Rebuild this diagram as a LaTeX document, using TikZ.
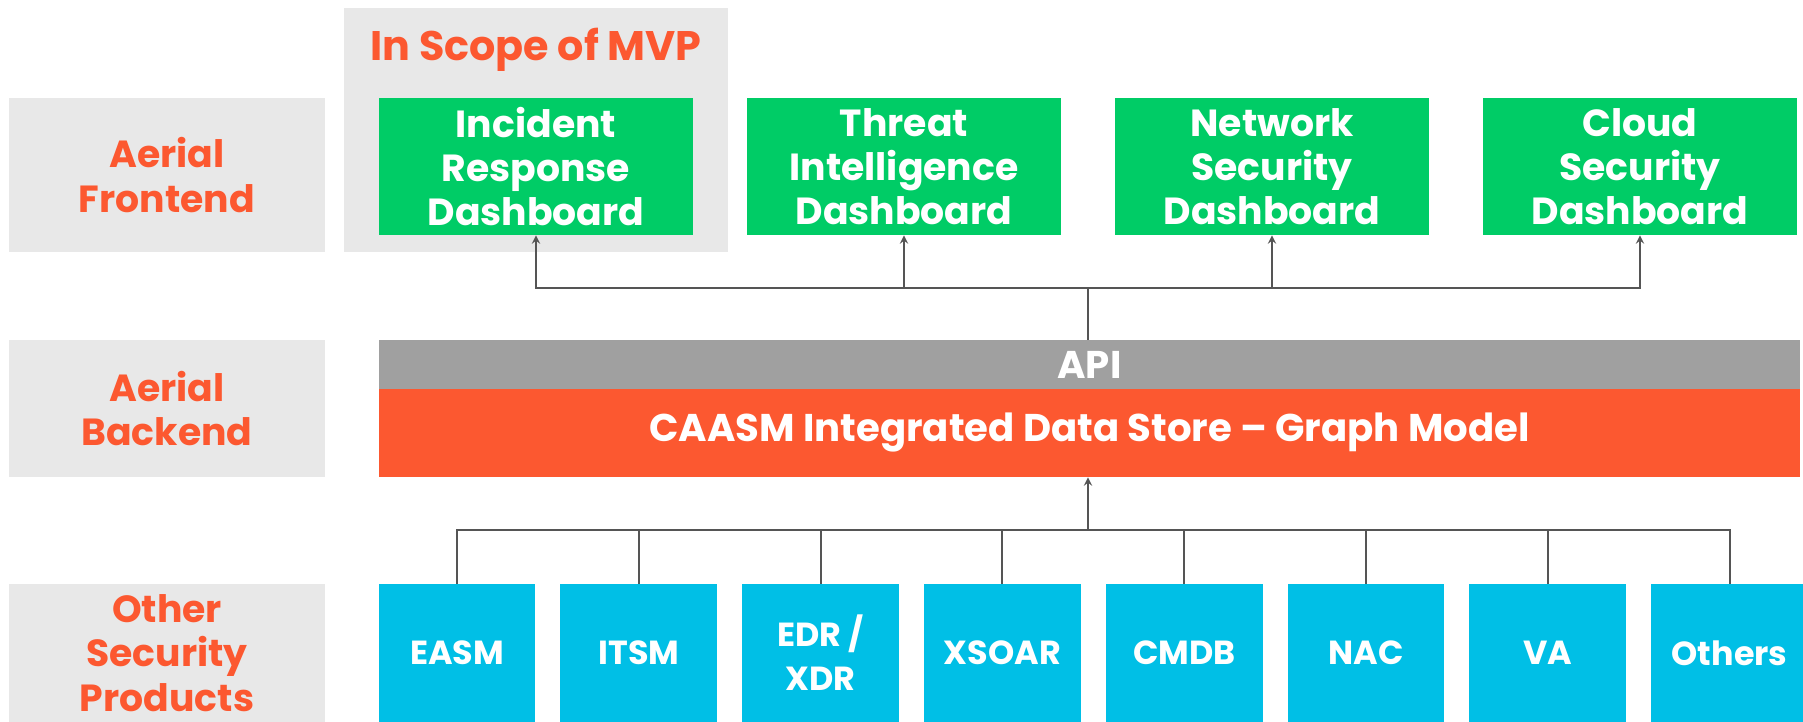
\documentclass[tikz,border=0pt]{standalone}
\usepackage{fontspec}
\setmainfont{Poppins}
\usepackage{xcolor}
\usepackage{tikz}
\usetikzlibrary{calc,positioning,arrows}

\definecolor{lblgrey}{HTML}{E8E8E8}
\definecolor{lblorange}{HTML}{FC5830}
\definecolor{dashgreen}{HTML}{00CC66}
\definecolor{prodblue}{HTML}{00BFE6}
\definecolor{apigrey}{HTML}{A0A0A0}
\definecolor{linegrey}{HTML}{555555}

\begin{document}
\begin{tikzpicture}[x=0.02cm,y=-0.02cm]

\useasboundingbox (0,0) rectangle (1803,722);

\tikzstyle{txt} = [font=\fontsize{21.5}{25.2}\selectfont\bfseries, align=center, inner sep=0pt]
\tikzstyle{layerbox} = [txt, fill=lblgrey, text=lblorange, minimum width=6.32cm]
\tikzstyle{dashbox} = [txt, fill=dashgreen, text=white, minimum width=6.28cm, minimum height=2.74cm]
\tikzstyle{prodbox} = [txt, font=\fontsize{19}{25.2}\selectfont\bfseries, fill=prodblue, text=white, minimum width=3.14cm, minimum height=2.76cm]
\tikzstyle{bar} = [txt, font=\fontsize{22}{25.2}\selectfont\bfseries, text=white, minimum width=28.42cm]
\tikzstyle{link} = [draw=linegrey, line width=1.1pt]

% layer labels on the left
\node (front) [layerbox, minimum height=3.08cm] at (167,175) {Aerial\\Frontend};
\node (back) [layerbox, minimum height=2.74cm] at (167,408.5) {Aerial\\Backend};
\node (other) [layerbox, minimum height=2.76cm] at (167,653) {Other\\Security\\Products};

% mvp scope
\node (mvp) [fill=lblgrey, minimum width=7.68cm, minimum height=4.88cm] at (536,130) {};
\node (mvptxt) [txt, font=\fontsize{23.5}{25.2}\selectfont\bfseries, text=lblorange] at (536,50) {In Scope of MVP};

% dashboards
\node (ir) [dashbox] at (536,166.5) {Incident\\Response\\Dashboard};
\node (ti) [dashbox] at (904,166.5) {Threat\\Intelligence\\Dashboard};
\node (ns) [dashbox] at (1272,166.5) {Network\\Security\\Dashboard};
\node (cs) [dashbox] at (1640,166.5) {Cloud\\Security\\Dashboard};

% backend
\node (api) [bar, fill=apigrey, minimum height=0.98cm] at (1089.5,364.5) {API};
\node (caasm) [bar, fill=lblorange, minimum height=1.76cm] at (1089.5,433) {CAASM Integrated Data Store -- Graph Model};

% products
\node (easm) [prodbox] at (457,653) {EASM};
\node (itsm) [prodbox] at (638.8,653) {ITSM};
\node (edr) [prodbox] at (820.6,653) {EDR /\\XDR};
\node (xsoar) [prodbox] at (1002.4,653) {XSOAR};
\node (cmdb) [prodbox] at (1184.2,653) {CMDB};
\node (nac) [prodbox] at (1366,653) {NAC};
\node (va) [prodbox] at (1547.8,653) {VA};
\node (others) [prodbox] at (1729.6,653) {Others};

\coordinate (tophub) at (1088,288);
\coordinate (bothub) at (1088,530);

% api to dashboards
\draw[link] (api.north -| tophub) -- (tophub);
\draw[link,->,>=stealth] (tophub) -| (ir.south);
\draw[link,->,>=stealth] (tophub) -| (ti.south);
\draw[link,->,>=stealth] (tophub) -| (ns.south);
\draw[link,->,>=stealth] (tophub) -| (cs.south);

% products to data store
\draw[link] (easm.north) |- (bothub);
\draw[link] (itsm.north) |- (bothub);
\draw[link] (edr.north) |- (bothub);
\draw[link] (xsoar.north) |- (bothub);
\draw[link] (cmdb.north) |- (bothub);
\draw[link] (nac.north) |- (bothub);
\draw[link] (va.north) |- (bothub);
\draw[link] (others.north) |- (bothub);
\draw[link,->,>=stealth] (bothub) -- (caasm.south -| bothub);

\end{tikzpicture}
\end{document}
